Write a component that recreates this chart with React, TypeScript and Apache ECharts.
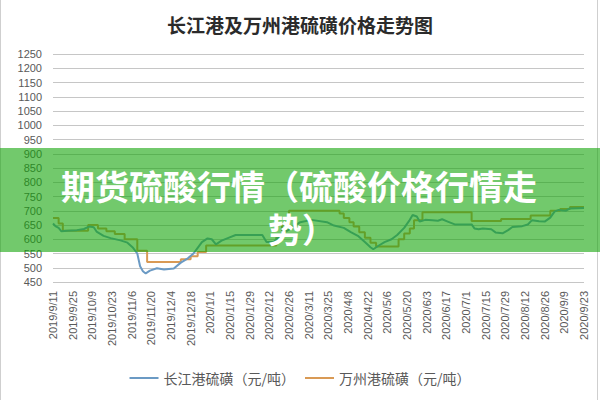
import React, { useEffect, useRef } from "react";
import * as echarts from "echarts";

const chartTitle = "长江港及万州港硫磺价格走势图";
const overlayLines = ["期货硫酸行情（硫酸价格行情走", "势）"];
const seriesNames = ["长江港硫磺（元/吨）", "万州港硫磺（元/吨）"];

// x tick labels, one every 14 days starting 2019/9/11
const xTickLabels = [
  "2019/9/11", "2019/9/25", "2019/10/9", "2019/10/23", "2019/11/6", "2019/11/20",
  "2019/12/4", "2019/12/18", "2020/1/1", "2020/1/15", "2020/1/29", "2020/2/12",
  "2020/2/26", "2020/3/11", "2020/3/25", "2020/4/8", "2020/4/22", "2020/5/6",
  "2020/5/20", "2020/6/3", "2020/6/17", "2020/7/1", "2020/7/15", "2020/7/29",
  "2020/8/12", "2020/8/26", "2020/9/9", "2020/9/23",
];
const daysPerTick = 14;

// 长江港 : days since 2019/9/11 and price
const changjiangDays = [
  0, 2, 4, 6, 10, 17, 22, 26, 29, 31, 36, 41, 48, 53, 57, 60, 62, 64, 66, 69,
  74, 79, 86, 91, 96, 100, 103, 106, 110, 113, 116, 120, 124, 130, 149, 152, 157, 160, 165, 170,
  176, 184, 195, 200, 207, 212, 217, 222, 226, 228, 232, 236, 241, 245, 250, 254, 256, 259, 261, 265,
  270, 274, 277, 281, 286, 298, 300, 303, 306, 312, 315, 320, 324, 327, 334, 338, 341, 346, 350, 354,
  357, 360, 365, 368, 378,
];
const changjiangPrices = [
  655, 645, 640, 628, 630, 632, 636, 645, 642, 627, 612, 604, 596, 588, 570, 550, 505, 488, 480, 490,
  498, 494, 497, 518, 533, 550, 570, 590, 603, 600, 582, 595, 603, 615, 615, 590, 590, 605, 625, 640,
  660, 668, 660, 648, 640, 625, 612, 590, 572, 565, 578, 590, 600, 615, 640, 668, 685, 680, 662, 668,
  667, 665, 670, 662, 652, 652, 638, 635, 638, 635, 624, 621, 632, 643, 646, 652, 667, 663, 662, 676,
  697, 703, 700, 708, 710,
];

// 万州港 : days since 2019/9/11 and price (step changes)
const wanzhouDays = [
  0, 4, 7, 25, 32, 38, 44, 51, 60, 67, 91, 98, 103, 109, 159, 163, 168, 204, 207, 211,
  214, 218, 222, 226, 230, 246, 250, 254, 257, 263, 298, 319, 340, 354, 361, 368, 378,
];
const wanzhouPrices = [
  675, 655, 630, 650, 638, 628, 618, 600, 560, 520, 530, 540, 555, 578, 610, 650, 700, 690, 675, 660,
  645, 625, 605, 588, 575, 600, 620, 638, 667, 695, 664, 671, 683, 700, 706, 713, 713,
];

const yMin = 450;
const yMax = 1250;
const yStep = 50;

export default function App() {
  const ref = useRef<HTMLDivElement>(null);
  useEffect(() => {
    if (!ref.current) return;
    const chart = echarts.init(ref.current, null, { renderer: "svg" });
    const cj = changjiangDays.map((d, i) => [d, changjiangPrices[i]]);
    const wz = wanzhouDays.map((d, i) => [d, wanzhouPrices[i]]);
    const axisColor = "#595959";
    const overlayTextStyle = {
      fill: "#ffffff",
      fontSize: 34,
      fontWeight: "bold",
      fontFamily: "Noto Sans CJK SC",
      align: "center",
      verticalAlign: "middle",
      lineHeight: 38,
    };
    chart.setOption({
      animation: false,
      backgroundColor: "#ffffff",
      title: {
        text: chartTitle,
        left: "center",
        top: 10,
        textStyle: {
          fontSize: 19,
          fontWeight: "bold",
          color: "#2b2b2b",
          fontFamily: "Noto Sans CJK SC",
        },
      },
      grid: { left: 53, right: 16, top: 54, bottom: 118 },
      xAxis: {
        type: "value",
        min: 0,
        max: (xTickLabels.length - 1) * daysPerTick,
        interval: daysPerTick,
        axisLine: { show: false },
        axisTick: { show: false },
        splitLine: { show: false },
        axisLabel: {
          rotate: 90,
          margin: 9,
          fontSize: 11,
          color: axisColor,
          fontFamily: "Liberation Sans",
          hideOverlap: false,
          showMinLabel: true,
          showMaxLabel: true,
          formatter: (v: number) => xTickLabels[Math.round(v / daysPerTick)] ?? "",
        },
      },
      yAxis: {
        type: "value",
        min: yMin,
        max: yMax,
        interval: yStep,
        axisLine: { show: false },
        axisTick: { show: false },
        axisLabel: {
          fontSize: 11,
          color: axisColor,
          margin: 11,
          fontFamily: "Liberation Sans",
          formatter: (v: number) => String(v),
        },
        splitLine: { lineStyle: { color: "#c6c6c6", width: 1 } },
      },
      legend: {
        bottom: 10,
        left: "center",
        itemWidth: 29,
        itemHeight: 2,
        itemGap: 10,
        icon: "rect",
        textStyle: { fontSize: 14, color: axisColor, fontFamily: "Noto Sans CJK SC" },
        data: seriesNames,
      },
      series: [
        {
          name: seriesNames[0],
          type: "line",
          data: cj,
          symbol: "none",
          lineStyle: { width: 2, color: "#6b9ac4" },
          itemStyle: { color: "#6b9ac4" },
          z: 3,
        },
        {
          name: seriesNames[1],
          type: "line",
          data: wz,
          step: "end",
          symbol: "none",
          lineStyle: { width: 2, color: "#d99a55" },
          itemStyle: { color: "#d99a55" },
          z: 2,
        },
      ],
      graphic: [
        {
          type: "rect",
          z: 100,
          shape: { x: 0, y: 148, width: 600, height: 104 },
          style: { fill: "rgba(20,165,10,0.6)" },
        },
        {
          type: "text",
          z: 101,
          x: 299,
          y: 185,
          style: { ...overlayTextStyle, text: overlayLines[0] },
        },
        {
          type: "text",
          z: 101,
          x: 302,
          y: 228,
          style: { ...overlayTextStyle, text: overlayLines[1] },
        },
        {
          type: "line",
          z: 50,
          shape: { x1: 0.5, y1: 0, x2: 0.5, y2: 400 },
          style: { stroke: "#cfcfcf", lineWidth: 1 },
        },
        {
          type: "line",
          z: 50,
          shape: { x1: 597.5, y1: 0, x2: 597.5, y2: 400 },
          style: { stroke: "#cfcfcf", lineWidth: 1 },
        },
      ],
    });
    return () => chart.dispose();
  }, []);
  return (
    <div
      ref={ref}
      style={{ position: "fixed", left: 0, top: 0, width: 600, height: 400 }}
    />
  );
}
